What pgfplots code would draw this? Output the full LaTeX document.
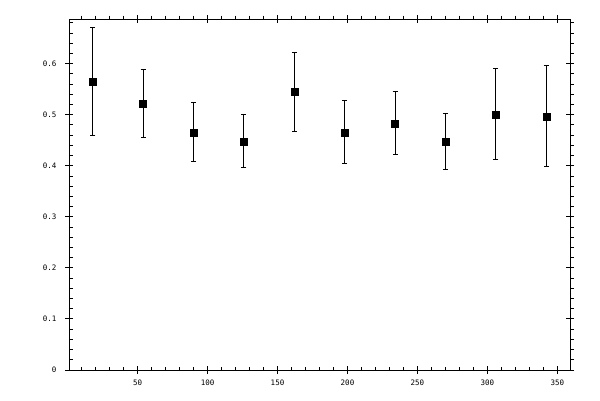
\documentclass[border=0pt]{standalone}
\usepackage{pgfplots}
\pgfplotsset{compat=1.18}
\usepackage{fontspec}
\setmonofont{DejaVu Sans Mono}

\pgfplotsset{
    frame/.style={
        scale only axis,
        width=501pt, height=351pt,
        at={(69pt,30pt)}, anchor=south west,
        xmin=1, xmax=359,
        ymin=0, ymax=0.6876,
        axis line style={line width=1pt},
        tick style={line width=1pt, black},
    },
    minorticks/.style={
        frame,
        xtick={50,100,...,350}, ytick={0,0.1,...,0.6},
        xticklabels={}, yticklabels={},
        minor xtick={10,20,...,350},
        minor ytick={0.02,0.04,...,0.681},
        major tick length=0pt,
        minor tick length=3.5pt,
    },
}

\begin{document}
\begin{tikzpicture}[x=1pt,y=1pt]
\path[use as bounding box] (0,0) rectangle (600,400);

% major ticks, labels and data
\begin{axis}[
    frame,
    xtick={50,100,...,350},
    ytick={0,0.1,...,0.6},
    tick align=center,
    major tick length=8pt,
    minor tick num=0,
    ticklabel style={font=\ttfamily\fontsize{7.5}{8}\selectfont},
    /pgf/number format/assume math mode=true,
    yticklabel style={xshift=-5pt},
    xticklabel style={yshift=-2pt},
]
% x, y, upper error, lower error
\addplot[
    only marks,
    mark=square*,
    mark size=3.5pt,
    black,
    error bars/.cd,
        y dir=both, y explicit,
        error bar style={line width=1pt},
        error mark options={rotate=90, mark size=2.5pt, line width=1pt},
] table[x=x, y=y, y error plus=ep, y error minus=em] {
x    y      ep     em
18   0.5655 0.1055 0.1060
54   0.5220 0.0670 0.0663
90   0.4655 0.0585 0.0569
126  0.4478 0.0530 0.0509
162  0.5460 0.0764 0.0785
198  0.4655 0.0633 0.0608
234  0.4831 0.0634 0.0607
270  0.4478 0.0549 0.0548
306  0.5008 0.0902 0.0883
342  0.4969 0.1000 0.0981
};
\end{axis}

% minor ticks pointing in on the bottom and left
\begin{axis}[minorticks, tick pos=left, tick align=inside]
\end{axis}

% minor ticks pointing out on the top and right
\begin{axis}[minorticks, tick pos=right, tick align=outside]
\end{axis}
\end{tikzpicture}
\end{document}
